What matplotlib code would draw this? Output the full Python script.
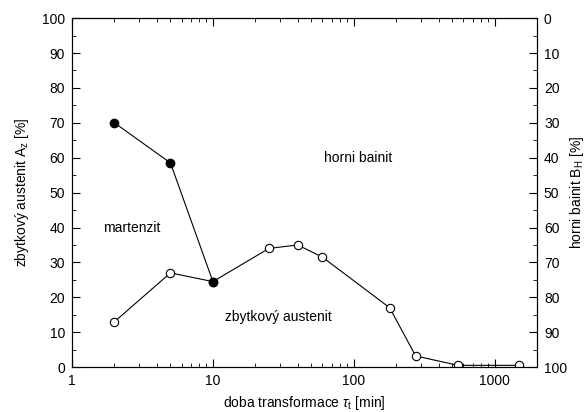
import matplotlib
matplotlib.use('Agg')
import matplotlib.pyplot as plt
from matplotlib.ticker import MultipleLocator, LogLocator, NullFormatter

plt.rcParams['font.family'] = ['Liberation Sans', 'DejaVu Sans']
plt.rcParams['font.size'] = 10
plt.rcParams['mathtext.fontset'] = 'custom'
plt.rcParams['mathtext.rm'] = 'Liberation Sans'
plt.rcParams['mathtext.it'] = 'Liberation Sans:italic'

# martenzit (filled)
mart_t = [2, 5, 10]
mart_v = [70, 58.5, 24.5]
# zbytkovy austenit (open)
aus_t = [2, 5, 10, 25, 40, 60, 180, 275, 550, 1500]
aus_v = [13, 27, 24.5, 34, 35, 31.5, 17, 3.2, 0.5, 0.5]

fig = plt.figure(figsize=(5.87, 4.12), dpi=100)
ax = fig.add_axes([0.1227, 0.109, 0.7921, 0.847])

ax.plot(aus_t, aus_v, '-', color='black', lw=0.8, marker='o', ms=6,
        mfc='white', mec='black', mew=0.8, zorder=2)
ax.plot(mart_t, mart_v, '-', color='black', lw=0.8, marker='o', ms=6,
        mfc='black', mec='black', zorder=3)

ax.set_xscale('log')
ax.set_xlim(1, 2000)
ax.set_ylim(0, 100)
ax.xaxis.set_minor_locator(LogLocator(base=10, subs=range(2, 10)))
ax.xaxis.set_minor_formatter(NullFormatter())
ax.set_xticks([1, 10, 100, 1000])
ax.set_xticklabels(['1', '10', '100', '1000'])
ax.yaxis.set_major_locator(MultipleLocator(10))
ax.yaxis.set_minor_locator(MultipleLocator(5))
ax.tick_params(which='both', direction='in', top=True, labelsize=10, pad=5)
ax.tick_params(which='major', length=6)
ax.tick_params(which='minor', length=3)

ax.set_xlabel(r'doba transformace $\tau_{\mathrm{t}}$ [min]')
ax.set_ylabel(r'zbytkový austenit A$_{\mathrm{z}}$ [%]', labelpad=8)

ax2 = ax.twinx()
ax2.set_ylim(100, 0)
ax2.yaxis.set_major_locator(MultipleLocator(10))
ax2.yaxis.set_minor_locator(MultipleLocator(5))
ax2.tick_params(which='both', direction='in', labelsize=10, pad=5)
ax2.tick_params(which='major', length=6)
ax2.tick_params(which='minor', length=3)
ax2.set_ylabel(r'horni bainit B$_{\mathrm{H}}$ [%]', labelpad=1)

ax.text(1.66, 40, 'martenzit', va='center', ha='left')
ax.text(62, 60, 'horni bainit', va='center', ha='left')
ax.text(12.2, 14.3, 'zbytkový austenit', va='center', ha='left')

fig.savefig('out.png', dpi=100)
